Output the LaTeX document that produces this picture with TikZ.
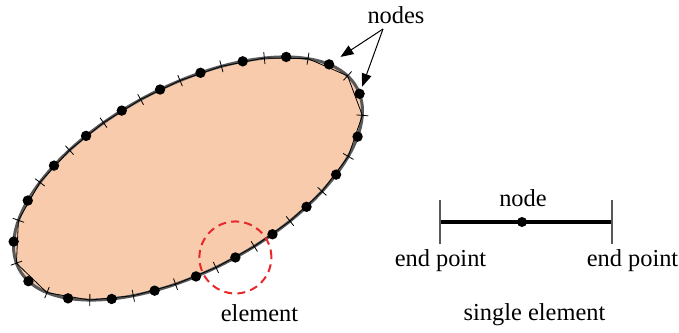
\documentclass[tikz,border=0pt]{standalone}
\usepackage{fontspec}
\setmainfont{Liberation Serif}
\newfontfamily\labelfont{Liberation Serif}
\usepackage{xcolor}
\usetikzlibrary{decorations.markings, arrows.meta}
\definecolor{peach}{RGB}{247,203,172}
\definecolor{rim}{RGB}{88,88,88}
\definecolor{ring}{RGB}{232,40,40}
\tikzstyle{boundary} = [draw=rim, 
line width=1.5pt, 
fill=peach]
\tikzstyle{nodedot} = [circle, 
fill=black, 
inner sep=0pt, 
minimum size=5.2pt]
\tikzstyle{tickmark} = [black, line width=0.4pt]
\tikzstyle{endtick} = [rim, line width=0.7pt]
\tikzstyle{txt} = [font=\labelfont\fontsize{12.2}{14}\selectfont, 
inner sep=0pt, 
anchor=base]
\tikzstyle{arrow} = [line width=0.5pt, -{Triangle[length=6.5pt, width=5pt]}]

\begin{document}
\begin{tikzpicture}[x=0.5pt, y=0.5pt]
\useasboundingbox (0,0) rectangle (679,332);

% boundary: element ends (t-i) and element nodes (n-i) by arc length
\path[boundary, rotate around={28.2:(188,153.5)},
  postaction={decorate, decoration={markings,
    mark=between positions 0.0167 and 0.99 step 0.047619 with {
      \coordinate (t-\pgfkeysvalueof{/pgf/decoration/mark info/sequence number});
      \draw[tickmark] (0,-6) -- (0,6);}}},
  postaction={decorate, decoration={markings,
    mark=between positions 0.0405 and 1 step 0.047619 with {
      \coordinate (n-\pgfkeysvalueof{/pgf/decoration/mark info/sequence number});}}}]
  (188,153.5) ellipse [x radius=191.7, y radius=92];

\draw[tickmark] (t-1) \foreach \i in {2,...,21} {-- (t-\i)} -- cycle;
\foreach \i in {1,...,21}
  \node[nodedot] (dot-\i) at (n-\i) {};

% labels on the boundary
\node[txt] (lbl-nodes) at (396,308.7) {nodes};
\coordinate (nodes-foot) at (383,303);
\draw[arrow, shorten >=4pt] (nodes-foot) -- (dot-1);
\draw[arrow, shorten >=1pt] (nodes-foot) -- (dot-21);

\draw[ring, line width=1pt, dash pattern=on 4pt off 2.6pt] (dot-16.center) circle [radius=36];
\node[txt] (lbl-element) at (259.5,10.3) {element};

% one element on its own
\coordinate (end-a) at (440,110);
\coordinate (end-b) at (612,110);
\draw[line width=1.8pt] (end-a) -- (end-b);
\draw[endtick] ([yshift=-11pt]end-a) -- ([yshift=11pt]end-a);
\draw[endtick] ([yshift=-11pt]end-b) -- ([yshift=11pt]end-b);
\node[nodedot, minimum size=5pt] (mid) at (522,110) {};

\node[txt] (lbl-node) at (523,126) {node};
\node[txt] (lbl-end-a) at (440.5,65.3) {end point};
\node[txt] (lbl-end-b) at (632.5,65.3) {end point};
\node[txt] (lbl-single) at (534.5,12) {single element};

\end{tikzpicture}
\end{document}
